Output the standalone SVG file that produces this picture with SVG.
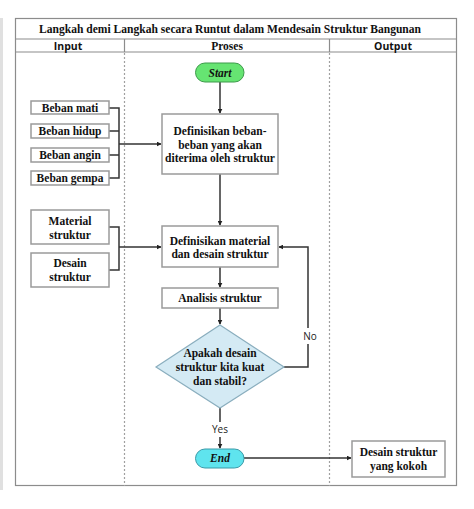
<svg xmlns="http://www.w3.org/2000/svg" width="474" height="509" viewBox="0 0 474 509">
<style>
.frame{fill:none;stroke:#8c8c8c;stroke-width:1.2}
.div{stroke:#8c8c8c;stroke-width:1.2}
.dash{stroke:#a0a0a0;stroke-width:1.2;stroke-dasharray:2 2}
.box{fill:#fff;stroke:#9a9a9a;stroke-width:1.5}
.t{font-family:"Liberation Serif","Times New Roman",serif;font-weight:bold;font-size:11.5px;fill:#111;text-anchor:middle}
.h{font-family:"Open Sans","Liberation Sans",sans-serif;font-weight:bold;font-size:10.5px;fill:#111;text-anchor:middle}
.l{font-family:"Open Sans","Liberation Sans",sans-serif;font-size:10px;fill:#222;text-anchor:middle}
.c{fill:none;stroke:#333;stroke-width:1.5}
</style>
<defs>
<marker id="ah" viewBox="0 0 8 8" refX="7" refY="4" markerWidth="5" markerHeight="5" markerUnits="userSpaceOnUse" orient="auto">
<path d="M0,0 L8,4 L0,8 z" fill="#222"/>
</marker>
</defs>
<rect x="0" y="18" width="3" height="472" fill="#e0e0e0"/>
<g id="table">
<rect class="frame" x="15.5" y="18.5" width="441" height="467"/>
<line class="div" x1="15.5" y1="39" x2="456.5" y2="39"/>
<line class="div" x1="15.5" y1="52" x2="456.5" y2="52"/>
<line class="div" x1="124.5" y1="39" x2="124.5" y2="52"/>
<line class="div" x1="329.5" y1="39" x2="329.5" y2="52"/>
<line class="dash" x1="124.5" y1="53" x2="124.5" y2="486"/>
<line class="dash" x1="329.5" y1="53" x2="329.5" y2="486"/>
<text class="t" x="230" y="32.5" textLength="382" lengthAdjust="spacingAndGlyphs" style="font-size:12.5px">Langkah demi Langkah secara Runtut dalam Mendesain Struktur Bangunan</text>
<text class="h" x="68" y="49.5">Input</text>
<text class="t" x="227" y="49.5">Proses</text>
<text class="h" x="393" y="49.5">Output</text>
</g>
<g id="connectors">
<path class="c" d="M109,108 H119 V178 H109 M109,131 H119 M109,155 H119"/>
<path class="c" d="M119,144 H161" marker-end="url(#ah)"/>
<path class="c" d="M109,227 H119 V270 H109"/>
<path class="c" d="M119,247 H161" marker-end="url(#ah)"/>
<path class="c" d="M220,82 V113" marker-end="url(#ah)"/>
<path class="c" d="M220,174 V225" marker-end="url(#ah)"/>
<path class="c" d="M220,267 V287" marker-end="url(#ah)"/>
<path class="c" d="M220,308 V324" marker-end="url(#ah)"/>
<path class="c" d="M284,367 H308 V344 M308,328 V247 H279" marker-end="url(#ah)"/>
<path class="c" d="M220,408 V422 M220,437 V448" marker-end="url(#ah)"/>
<path class="c" d="M244,458 H351" marker-end="url(#ah)"/>
<text class="l" x="310" y="339.5">No</text>
<text class="l" x="220" y="433">Yes</text>
</g>
<g id="beban-mati"><rect class="box" x="31" y="101" width="78" height="13"/><text class="t" x="70" y="111.5">Beban mati</text></g>
<g id="beban-hidup"><rect class="box" x="31" y="124" width="78" height="14"/><text class="t" x="70" y="135">Beban hidup</text></g>
<g id="beban-angin"><rect class="box" x="31" y="148" width="78" height="14"/><text class="t" x="70" y="159">Beban angin</text></g>
<g id="beban-gempa"><rect class="box" x="31" y="171" width="78" height="14"/><text class="t" x="70" y="182">Beban gempa</text></g>
<g id="material"><rect class="box" x="31" y="210" width="78" height="34"/><text class="t" x="70" y="225">Material</text><text class="t" x="70" y="238.5">struktur</text></g>
<g id="desain"><rect class="box" x="31" y="253" width="78" height="34"/><text class="t" x="70" y="267">Desain</text><text class="t" x="70" y="281">struktur</text></g>
<g id="start"><rect x="195.5" y="63" width="48.5" height="19" rx="9.5" fill="#66e472" stroke="#3c9a4a" stroke-width="1"/><text class="t" x="220" y="76.5" font-style="italic">Start</text></g>
<g id="def-beban"><rect class="box" x="162" y="114" width="116" height="60"/><text class="t" x="220" y="135">Definisikan beban-</text><text class="t" x="220" y="148.5">beban yang akan</text><text class="t" x="220" y="162">diterima oleh struktur</text></g>
<g id="def-material"><rect class="box" x="162" y="226" width="116" height="41"/><text class="t" x="220" y="245">Definisikan material</text><text class="t" x="220" y="258">dan desain struktur</text></g>
<g id="analisis"><rect class="box" x="162" y="288" width="116" height="20"/><text class="t" x="220" y="302">Analisis struktur</text></g>
<g id="keputusan"><path d="M220,325 L284,367 L220,408 L156,367 z" fill="#d4eaf4" stroke="#8aaebe" stroke-width="1.2"/><text class="t" x="220" y="357">Apakah desain</text><text class="t" x="220" y="371">struktur kita kuat</text><text class="t" x="220" y="385">dan stabil?</text></g>
<g id="end"><rect x="195.5" y="449" width="48.5" height="19" rx="9.5" fill="#5fe4ee" stroke="#3a9aa8" stroke-width="1"/><text class="t" x="220" y="462" font-style="italic">End</text></g>
<g id="output"><rect class="box" x="352" y="441" width="93" height="36"/><text class="t" x="398.5" y="456">Desain struktur</text><text class="t" x="398.5" y="470">yang kokoh</text></g>
</svg>
